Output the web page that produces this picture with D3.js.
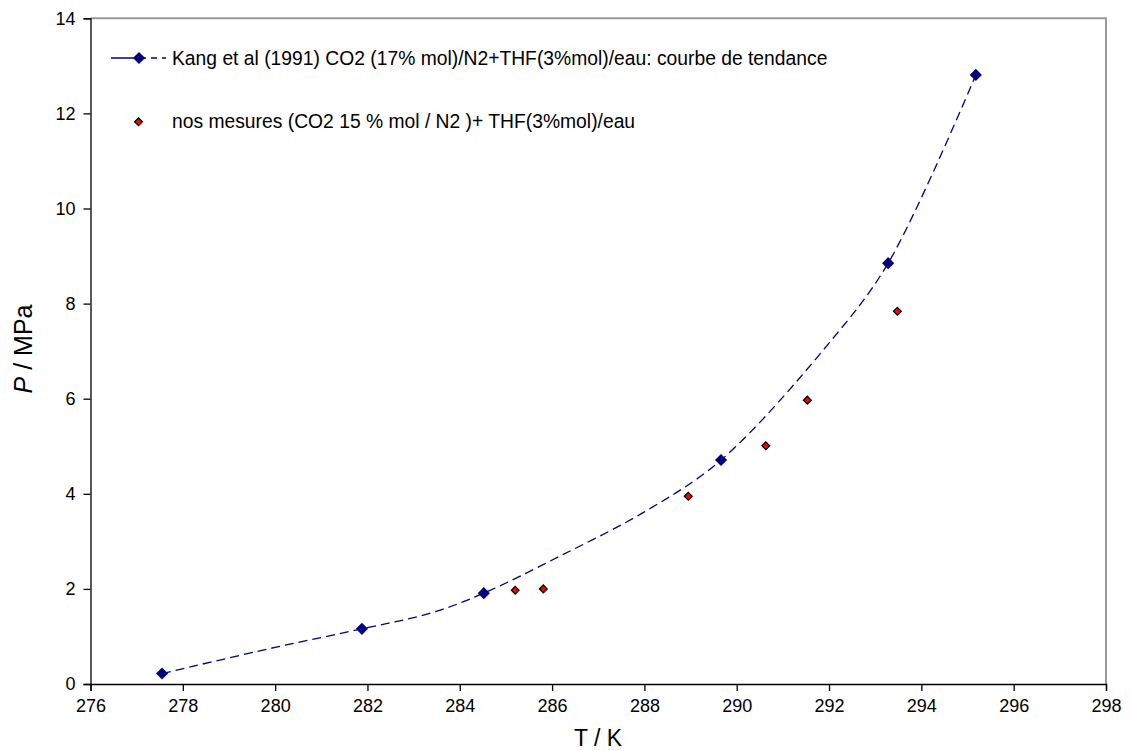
<!DOCTYPE html>
<html><head><meta charset="utf-8">
<script src="https://cdn.jsdelivr.net/npm/d3@7"></script>
<style>body{margin:0;background:#fff}svg{display:block;font-family:"Liberation Sans",Arial,sans-serif}</style>
</head><body>
<svg id="c" width="1132" height="751"></svg>
<script>
// Kang et al (1991) data points (markers)
const kangT = [277.55, 281.88, 284.52, 289.66, 293.28, 295.18];
const kangP = [0.22, 1.16, 1.91, 4.71, 8.85, 12.81];
// Trend curve points
const trendT = [277.55, 280.0, 281.88, 283.4, 284.52, 286.17, 288.0, 289.66, 292.0, 293.28, 295.18];
const trendP = [0.22, 0.77, 1.16, 1.50, 1.91, 2.69, 3.62, 4.71, 7.17, 8.85, 12.81];
// Our measurements
const mesT = [285.2, 285.81, 288.95, 290.63, 291.53, 293.48];
const mesP = [1.97, 2.00, 3.95, 5.01, 5.97, 7.84];
const xTicks = [276, 278, 280, 282, 284, 286, 288, 290, 292, 294, 296, 298];
const yTicks = [0, 2, 4, 6, 8, 10, 12, 14];
const legendLabels = ["Kang et al (1991) CO2 (17% mol)/N2+THF(3%mol)/eau: courbe de tendance",
                      "nos mesures (CO2 15 % mol / N2 )+ THF(3%mol)/eau"];

const svg = d3.select("#c");
const L = 90.5, R = 1106, T = 18.3, B = 684;
const x = d3.scaleLinear().domain([276, 298]).range([L, R]);
const y = d3.scaleLinear().domain([0, 14]).range([B, T]);

// plot frame (top/right grey)
svg.append("path").attr("d", `M${L},${T}H${R}V${B}`).attr("fill","none").attr("stroke","#9a9a9a").attr("stroke-width",2);

// axes
const xa = svg.append("g").attr("transform",`translate(0,${B})`)
  .call(d3.axisBottom(x).tickValues(xTicks).tickSize(7).tickPadding(8).tickFormat(d3.format("d")));
const ya = svg.append("g").attr("transform",`translate(${L},0)`)
  .call(d3.axisLeft(y).tickValues(yTicks).tickSize(7).tickPadding(8).tickFormat(d3.format("d")));
[xa, ya].forEach(g => {
  g.select(".domain").attr("stroke","#000").attr("stroke-width",1.3);
  g.selectAll(".tick line").attr("stroke","#000").attr("stroke-width",1.3);
  g.selectAll(".tick text").attr("fill","#000").style("font-size","18px").style("font-family","'Liberation Sans',Arial,sans-serif");
});

// axis titles
svg.append("text").attr("x", 598).attr("y", 746).attr("text-anchor","middle")
  .style("font-size","23px").text("T / K");
const yt = svg.append("text").attr("transform","translate(32,349) rotate(-90)").attr("text-anchor","middle")
  .style("font-size","25px");
yt.append("tspan").style("font-style","italic").text("P");
yt.append("tspan").text(" / MPa");

// trend curve
const line = d3.line().x(d => x(d[0])).y(d => y(d[1])).curve(d3.curveCatmullRom.alpha(0.5));
svg.append("path").datum(trendT.map((t,i)=>[t,trendP[i]]))
  .attr("d", line).attr("fill","none").attr("stroke","#000080").attr("stroke-width",1.3)
  .attr("stroke-dasharray","9,5");

const bigD = d3.symbol().type(d3.symbolSquare).size(74)();
const smallD = d3.symbol().type(d3.symbolSquare).size(30)();
// Kang markers
svg.append("g").selectAll("path").data(kangT.map((t,i)=>[t,kangP[i]])).join("path")
  .attr("transform", d=>`translate(${x(d[0])},${y(d[1])}) rotate(45)`)
  .attr("d", bigD).attr("fill","#000080");
// measurements
svg.append("g").selectAll("path").data(mesT.map((t,i)=>[t,mesP[i]])).join("path")
  .attr("transform", d=>`translate(${x(d[0])},${y(d[1])}) rotate(45)`)
  .attr("d", smallD).attr("fill","#ff0000").attr("stroke","#000").attr("stroke-width",1.3);

// legend
const lg = svg.append("g");
lg.append("path").attr("d","M111,58H166").attr("stroke","#000080").attr("stroke-width",1.3).attr("fill","none")
  .attr("stroke-dasharray","35,5,6,5,6");
lg.append("path").attr("transform","translate(139,58) rotate(45)").attr("d", bigD).attr("fill","#000080");
lg.append("path").attr("transform","translate(138.5,121.7) rotate(45)").attr("d", smallD)
  .attr("fill","#ff0000").attr("stroke","#000").attr("stroke-width",1.3);
lg.append("text").attr("x",172).attr("y",65).style("font-size","19.3px").text(legendLabels[0]);
lg.append("text").attr("x",172).attr("y",127.5).style("font-size","19.3px").text(legendLabels[1]);
</script>
</body></html>
